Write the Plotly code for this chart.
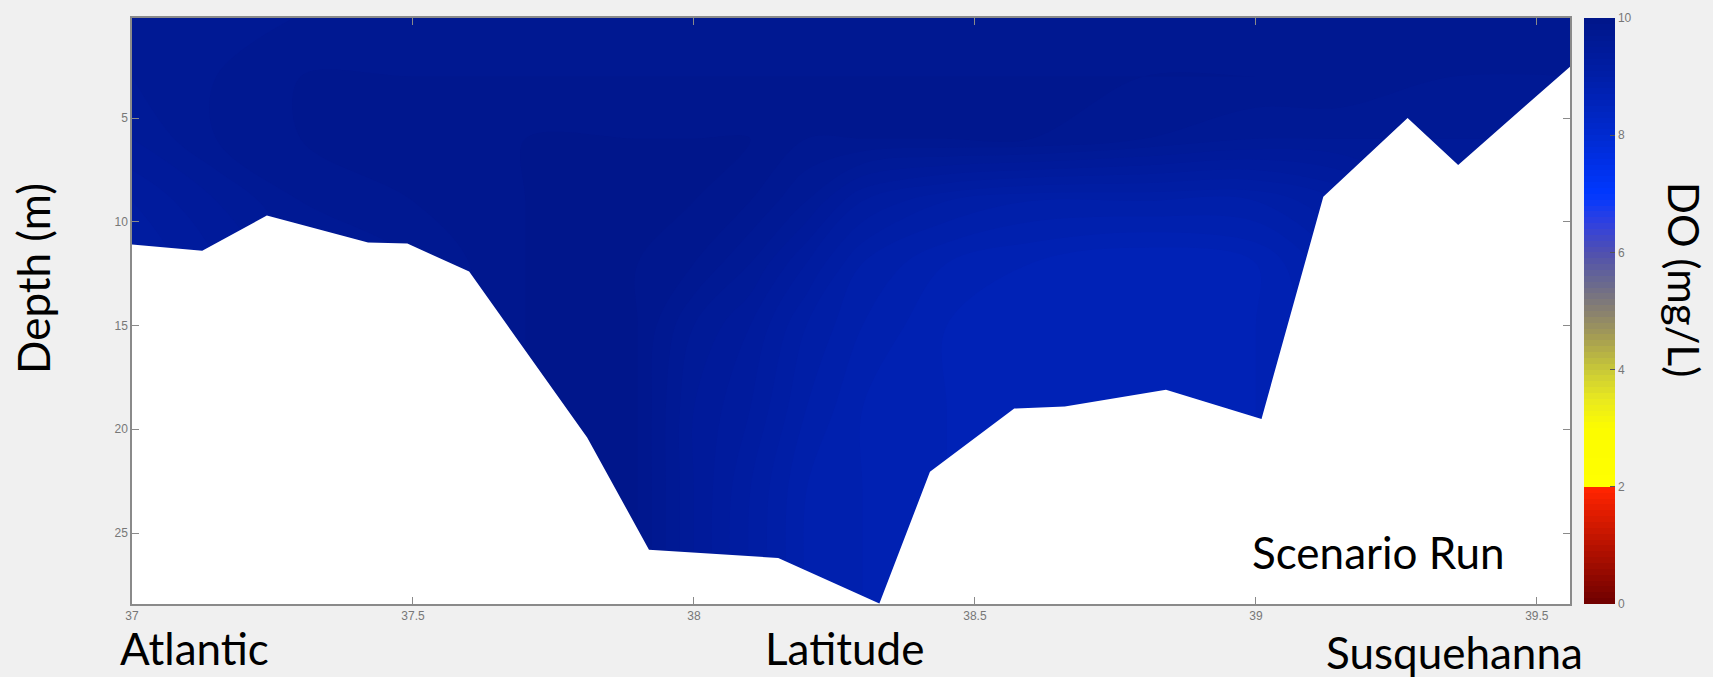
import plotly.graph_objects as go

# Station latitudes (deg N) and depth levels (m) of the DO section
lat = [37.0, 37.15, 37.3, 37.5, 37.7, 37.9, 38.0, 38.1, 38.2, 38.3,
       38.45, 38.6, 38.8, 39.0, 39.15, 39.35, 39.56]
depth = [0, 3, 6, 9, 12, 15, 19, 23, 28.5]

# Dissolved oxygen (mg/L), one row per depth level
do_values = [
    [9.6, 9.6, 9.7, 9.7, 9.7, 9.7, 9.7, 9.7, 9.7, 9.7, 9.7, 9.7, 9.7, 9.7, 9.7, 9.7, 9.7],
    [9.6, 9.7, 9.8, 9.8, 9.8, 9.8, 9.8, 9.8, 9.8, 9.8, 9.8, 9.8, 9.8, 9.8, 9.8, 9.7, 9.7],
    [9.5, 9.7, 9.8, 9.8, 9.9, 9.9, 9.9, 9.9, 9.8, 9.8, 9.8, 9.8, 9.7, 9.6, 9.6, 9.6, 9.6],
    [9.3, 9.5, 9.7, 9.8, 9.9, 9.9, 9.9, 9.8, 9.6, 9.3, 9.1, 9.0, 9.0, 9.0, 9.2, 9.5, 9.5],
    [9.2, 9.4, 9.6, 9.7, 9.9, 9.9, 9.8, 9.6, 9.3, 9.0, 8.8, 8.7, 8.6, 8.7, 9.0, 9.4, 9.5],
    [9.2, 9.4, 9.6, 9.7, 9.9, 9.9, 9.6, 9.4, 9.1, 8.9, 8.7, 8.6, 8.6, 8.7, 8.9, 9.3, 9.5],
    [9.2, 9.4, 9.6, 9.7, 9.9, 9.9, 9.5, 9.3, 9.0, 8.8, 8.7, 8.6, 8.6, 8.7, 8.9, 9.3, 9.5],
    [9.2, 9.4, 9.6, 9.7, 9.9, 9.9, 9.5, 9.2, 8.9, 8.8, 8.7, 8.6, 8.6, 8.7, 8.9, 9.3, 9.5],
    [9.2, 9.4, 9.6, 9.7, 9.9, 9.9, 9.5, 9.2, 8.9, 8.8, 8.7, 8.6, 8.6, 8.7, 8.9, 9.3, 9.5],
]

# Bottom profile along the channel (lat, depth)
bottom_lat = [37.0, 37.125, 37.24, 37.42, 37.49, 37.60, 37.70, 37.81, 37.92,
              38.15, 38.33, 38.42, 38.57, 38.66, 38.84, 39.01, 39.12, 39.27,
              39.36, 39.56]
bottom_depth = [11.1, 11.4, 9.7, 11.0, 11.05, 12.4, 16.2, 20.4, 25.8,
                26.2, 28.4, 22.05, 19.0, 18.9, 18.1, 19.5, 8.8, 5.0,
                7.26, 2.5]

x_ticks = [37, 37.5, 38, 38.5, 39, 39.5]
x_tick_text = ["37", "37.5", "38", "38.5", "39", "39.5"]
y_ticks = [5, 10, 15, 20, 25]
cbar_ticks = [0, 2, 4, 6, 8, 10]

do_colorscale = [
    [0.00, "#6e0000"], [0.10, "#b81200"], [0.195, "#ff2400"],
    [0.20, "#ffff00"], [0.30, "#fcfc00"], [0.35, "#e8e820"],
    [0.40, "#c8c838"], [0.45, "#a8a050"], [0.50, "#888070"],
    [0.55, "#686890"], [0.60, "#5050b0"], [0.65, "#3040e0"],
    [0.70, "#0038ff"], [0.75, "#0030e8"], [0.80, "#002ad0"],
    [0.85, "#0024bc"], [0.90, "#001ea8"], [0.95, "#001a98"],
    [1.00, "#00168a"],
]

W, H = 1713, 677
L, R, T, B = 132, 1570, 18, 604


def px(x):
    return (x - L) / (R - L)


def py(y):
    return (B - y) / (B - T)


fig = go.Figure()

fig.add_trace(go.Contour(
    x=lat, y=depth, z=do_values,
    colorscale=do_colorscale, zmin=0, zmax=10,
    autocontour=False,
    contours=dict(start=0, end=10, size=0.1, coloring="fill", showlines=False),
    line=dict(width=0),
    hoverinfo="skip",
    colorbar=dict(
        x=px(1584), xanchor="left", y=0.5, yanchor="middle",
        len=1.0, lenmode="fraction", thickness=31, thicknessmode="pixels",
        outlinewidth=0, tickvals=cbar_ticks, ticks="inside", ticklen=5,
        tickcolor="#555", tickfont=dict(family="Liberation Sans", size=12, color="#777"),
        ypad=0, xpad=0,
    ),
))

# Sea floor masked in white below the bottom profile
mask_x = [36.9] + bottom_lat + [39.7, 39.7, 36.9]
mask_y = [bottom_depth[0]] + bottom_depth + [bottom_depth[-1], 31, 31]
fig.add_trace(go.Scatter(
    x=mask_x, y=mask_y, mode="lines", fill="toself",
    fillcolor="white", line=dict(width=0, color="white"),
    hoverinfo="skip", showlegend=False,
))

axis_common = dict(
    showgrid=False, zeroline=False, showline=True, linecolor="#8a8a8a",
    linewidth=1.5, mirror="ticks", ticks="inside", ticklen=7, tickcolor="#8a8a8a",
    tickfont=dict(family="Liberation Sans", size=12, color="#777"),
)

fig.update_xaxes(range=[37.0, 39.559], tickvals=x_ticks, ticktext=x_tick_text, **axis_common)
fig.update_yaxes(range=[28.42, 0.18], tickvals=y_ticks, **axis_common)

label_font = dict(family="Lato", size=44, color="black")
annotations = [
    dict(text="Depth (m)", x=px(33), y=py(279), textangle=-90, font=label_font),
    dict(text="Atlantic", x=px(194), y=py(648), font=label_font),
    dict(text="Latitude", x=px(844), y=py(648), font=label_font),
    dict(text="Susquehanna", x=px(1454), y=py(652), font=label_font),
    dict(text="Scenario Run", x=px(1378), y=py(552), font=label_font),
    dict(text="DO (mg/L)", x=px(1684), y=py(279), textangle=90,
         font=dict(family="Lato", size=42, color="black")),
]
for a in annotations:
    a.update(xref="paper", yref="paper", showarrow=False, xanchor="center", yanchor="middle")

fig.update_layout(
    width=W, height=H,
    margin=dict(l=L, r=W - R, t=T, b=H - B, pad=0),
    paper_bgcolor="#f0f0f0", plot_bgcolor="white",
    showlegend=False, annotations=annotations,
)

fig.write_html("out.html")
